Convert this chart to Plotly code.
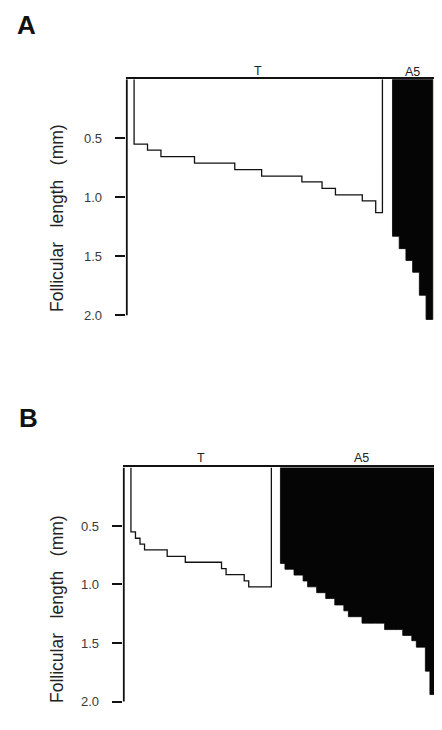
import plotly.graph_objects as go

# ---------------- data (follicular lengths, mm; one value per follicle, sorted) -------------
A_T_lengths = [0.55, 0.55, 0.60, 0.60,
               0.655, 0.655, 0.655, 0.655, 0.655,
               0.71, 0.71, 0.71, 0.71, 0.71, 0.71,
               0.765, 0.765, 0.765, 0.765,
               0.82, 0.82, 0.82, 0.82, 0.82, 0.82,
               0.87, 0.87, 0.87,
               0.925, 0.925,
               0.98, 0.98, 0.98, 0.98,
               1.03, 1.03,
               1.13]
A_A5_lengths = [1.33, 1.435, 1.535, 1.635, 1.83, 2.035]

B_T_lengths = [0.55, 0.605, 0.655,
               0.705, 0.705, 0.705, 0.705, 0.705,
               0.76, 0.76, 0.76, 0.76,
               0.81, 0.81, 0.81, 0.81, 0.81, 0.81, 0.81, 0.81,
               0.865,
               0.915, 0.915, 0.915, 0.915,
               0.97,
               1.02, 1.02, 1.02, 1.02, 1.02]
B_A5_lengths = [0.82, 0.87, 0.87, 0.92, 0.92, 0.97, 1.02, 1.02, 1.07, 1.07,
                1.12, 1.12, 1.175, 1.175, 1.225, 1.275, 1.275, 1.275,
                1.33, 1.33, 1.33, 1.33, 1.33,
                1.385, 1.385, 1.385, 1.385,
                1.435, 1.435, 1.48, 1.535, 1.535, 1.74, 1.94]

tick_vals = [0.5, 1.0, 1.5, 2.0]
tick_text = ["0.5", "1.0", "1.5", "2.0"]
group_labels = ["T", "A5"]
y_title = "Follicular\u00a0\u00a0\u00a0length\u00a0\u00a0\u00a0(mm)"

# ---------------- layout constants ----------------
# The page body has an 8px default margin, so the figure is drawn 8px in from the window edge.
OFF = 8
W, H = 442 - OFF, 730 - OFF
FONT = "Liberation Sans, Arial, Helvetica, sans-serif"


def fx(px):
    return (px - OFF) / W


def fy(py):
    return 1 - (py - OFF) / H


panels = {
    "A": dict(T=A_T_lengths, A5=A_A5_lengths, t0=1.1, a0=39.6,
              xrange=[-0.15, 46.9], xdom=[125.7, 441.5], ytop=79.3, ybot=322.4,
              xa="x", ya="y", letter=(26, 25), title_y=218,
              lab_y=(71, 72), a5_lab_x=None),
    "B": dict(T=B_T_lengths, A5=B_A5_lengths, t0=1.6, a0=34.6,
              xrange=[-0.22, 68.7], xdom=[122.7, 434.9], ytop=467.4, ybot=708.6,
              xa="x2", ya="y2", letter=(28, 417.5), title_y=609,
              lab_y=(458, 458), a5_lab_x=52.6),
}

YMAX = 2.06


def step_path(start, lengths):
    xs = [start] + [start + i for i in range(len(lengths))] + [start + len(lengths)] * 2
    ys = [0] + list(lengths) + [lengths[-1], 0]
    return xs, ys


fig = go.Figure()
shapes = []
annotations = []

for key, p in panels.items():
    # T group: outlined step profile
    tx, ty = step_path(p["t0"], p["T"])
    fig.add_trace(go.Scatter(x=tx, y=ty, mode="lines", line=dict(color="#111", width=1.3, shape="hv"),
                             xaxis=p["xa"], yaxis=p["ya"], showlegend=False, hoverinfo="skip"))
    # A5 group: solid black step profile
    ax_, ay_ = step_path(p["a0"], p["A5"])
    fig.add_trace(go.Scatter(x=ax_ + [p["a0"]], y=ay_ + [0], mode="lines", fill="toself",
                             fillcolor="#050505", line=dict(color="#050505", width=0.8, shape="hv"),
                             xaxis=p["xa"], yaxis=p["ya"], showlegend=False, hoverinfo="skip"))
    # vertical axis line from 0 to 2.0
    shapes.append(dict(type="line", xref=p["xa"], yref=p["ya"], x0=0, x1=0, y0=0, y1=2.0,
                       line=dict(color="#111", width=2)))
    # group labels
    tcx = p["t0"] + len(p["T"]) / 2
    acx = p["a5_lab_x"] if p["a5_lab_x"] is not None else p["a0"] + len(p["A5"]) / 2
    for lab, cx, ly in zip(group_labels, [tcx, acx], p["lab_y"]):
        annotations.append(dict(text=lab, x=cx, xref=p["xa"], y=fy(ly), yref="paper",
                                showarrow=False, xanchor="center", yanchor="middle",
                                font=dict(family=FONT, size=12.5, color="#222")))
    # panel letter
    annotations.append(dict(text="<b>%s</b>" % key, x=fx(p["letter"][0]), y=fy(p["letter"][1]),
                            xref="paper", yref="paper", showarrow=False, xanchor="center",
                            yanchor="middle", font=dict(family=FONT, size=26, color="#111")))
    # y title
    annotations.append(dict(text=y_title, x=fx(57), y=fy(p["title_y"]), xref="paper",
                            yref="paper", showarrow=False, textangle=-90, xanchor="center",
                            yanchor="middle", font=dict(family=FONT, size=17.5, color="#222")))

common_x = dict(showgrid=False, zeroline=False, showticklabels=False, ticks="",
                showline=True, linecolor="#111", linewidth=2, side="top", fixedrange=True)
common_y = dict(showgrid=False, zeroline=False, showline=False, ticks="outside", ticklen=10,
                tickwidth=2, tickcolor="#111", tickvals=tick_vals, ticktext=tick_text,
                tickfont=dict(family=FONT, size=13, color="#3a3a3a"), ticklabelstandoff=10,
                range=[YMAX, 0], fixedrange=True)

pa, pb = panels["A"], panels["B"]
fig.update_layout(
    width=W, height=H, margin=dict(l=0, r=0, t=0, b=0),
    paper_bgcolor="white", plot_bgcolor="rgba(0,0,0,0)",
    xaxis=dict(common_x, domain=[fx(pa["xdom"][0]), fx(pa["xdom"][1])], range=pa["xrange"], anchor="y"),
    yaxis=dict(common_y, domain=[fy(pa["ybot"]), fy(pa["ytop"])], anchor="x"),
    xaxis2=dict(common_x, domain=[fx(pb["xdom"][0]), fx(pb["xdom"][1])], range=pb["xrange"], anchor="y2"),
    yaxis2=dict(common_y, domain=[fy(pb["ybot"]), fy(pb["ytop"])], anchor="x2"),
    shapes=shapes, annotations=annotations, showlegend=False,
)

fig.write_html("out.html")
